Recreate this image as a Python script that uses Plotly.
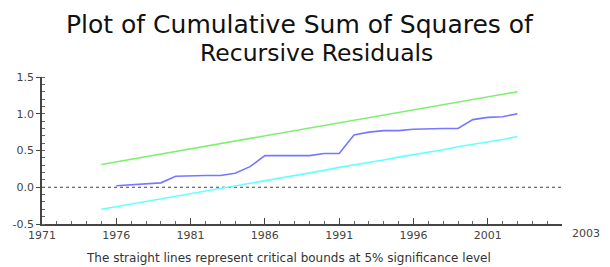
import plotly.graph_objects as go

years_bounds = list(range(1975, 2004))
upper_bound = [0.31, 0.345, 0.38, 0.42, 0.45, 0.49, 0.52, 0.56, 0.59, 0.63,
               0.66, 0.70, 0.73, 0.77, 0.80, 0.84, 0.88, 0.91, 0.95, 0.98,
               1.02, 1.05, 1.09, 1.12, 1.16, 1.19, 1.23, 1.26, 1.30]
lower_bound = [-0.30, -0.265, -0.23, -0.19, -0.16, -0.12, -0.09, -0.05, -0.02, 0.02,
               0.05, 0.09, 0.12, 0.16, 0.19, 0.23, 0.27, 0.30, 0.34, 0.37,
               0.41, 0.44, 0.48, 0.51, 0.55, 0.58, 0.62, 0.65, 0.69]
years_stat = list(range(1976, 2004))
cusumsq = [0.02, 0.03, 0.05, 0.06, 0.15, 0.16, 0.16, 0.16, 0.19, 0.28,
           0.43, 0.43, 0.43, 0.43, 0.46, 0.46, 0.71, 0.75, 0.77, 0.77,
           0.79, 0.80, 0.80, 0.80, 0.92, 0.95, 0.96, 1.00]
x_tickvals = [1971, 1976, 1981, 1986, 1991, 1996, 2001, 2006]
x_ticktext = ["1971", "1976", "1981", "1986", "1991", "1996", "2001", ""]
y_tickvals = [-0.5, 0.0, 0.5, 1.0, 1.5]
y_ticktext = ["-0.5", "0.0", "0.5", "1.0", "1.5"]

FONT = "DejaVu Sans, Arial, sans-serif"

fig = go.Figure()
fig.add_trace(go.Scatter(x=years_bounds, y=upper_bound, mode="lines",
                         line=dict(color="#7fef6f", width=1.6), hoverinfo="skip"))
fig.add_trace(go.Scatter(x=years_bounds, y=lower_bound, mode="lines",
                         line=dict(color="#66ffff", width=1.6), hoverinfo="skip"))
fig.add_trace(go.Scatter(x=years_stat, y=cusumsq, mode="lines",
                         line=dict(color="#7777ff", width=1.6), hoverinfo="skip"))

fig.add_shape(type="line", xref="x", yref="y", x0=1971, x1=2006, y0=0, y1=0,
              line=dict(color="#444444", width=1.2, dash="dot"), layer="below")

W, H = 610, 267
L, R, T, B = 41.5, 48, 76.7, 43
pw, ph = W - L - R, H - T - B

def px(xp):
    return (xp - L) / pw

def py(yp):
    return (H - B - yp) / ph

fig.add_annotation(text="Plot of Cumulative Sum of Squares of", xref="paper", yref="paper",
                   x=px(300), y=py(24), xanchor="center", yanchor="middle", showarrow=False,
                   font=dict(family=FONT, size=25, color="#111111"))
fig.add_annotation(text="Recursive Residuals", xref="paper", yref="paper",
                   x=px(316), y=py(53), xanchor="center", yanchor="middle", showarrow=False,
                   font=dict(family=FONT, size=23.5, color="#111111"))
fig.add_annotation(text="The straight lines represent critical bounds at 5% significance level",
                   xref="paper", yref="paper", x=px(288), y=py(258), xanchor="center", yanchor="middle",
                   showarrow=False, font=dict(family=FONT, size=12, color="#333333"))
fig.add_annotation(text="2003", xref="paper", yref="paper", x=px(586), y=py(234),
                   xanchor="center", yanchor="middle", showarrow=False,
                   font=dict(family=FONT, size=11, color="#444444"))

fig.update_layout(
    width=W, height=H,
    margin=dict(l=L, r=R, t=T, b=B, pad=0),
    paper_bgcolor="white", plot_bgcolor="white",
    showlegend=False,
    font=dict(family=FONT, size=11, color="#444444"),
)
fig.update_xaxes(
    range=[1971, 2006], tickvals=x_tickvals, ticktext=x_ticktext,
    showgrid=False, zeroline=False, showline=True, linecolor="#444444", linewidth=1.5,
    ticks="inside", ticklen=6, tickwidth=1.2, tickcolor="#444444",
    minor=dict(dtick=1, ticks="inside", ticklen=3, tickcolor="#666666", showgrid=False),
    tickfont=dict(family=FONT, size=11, color="#444444"),
)
fig.update_yaxes(
    range=[-0.5, 1.5], tickvals=y_tickvals, ticktext=y_ticktext,
    showgrid=False, zeroline=False, showline=True, linecolor="#444444", linewidth=1.5,
    ticks="outside", ticklen=4, tickwidth=1.2, tickcolor="#444444",
    minor=dict(dtick=0.1, tick0=-0.5, ticks="inside", ticklen=3, tickcolor="#666666", showgrid=False),
    tickfont=dict(family=FONT, size=11, color="#444444"),
)

fig.write_html("out.html", config={"displayModeBar": False},
               post_script="document.body.style.margin='0';document.body.style.overflow='hidden';")
